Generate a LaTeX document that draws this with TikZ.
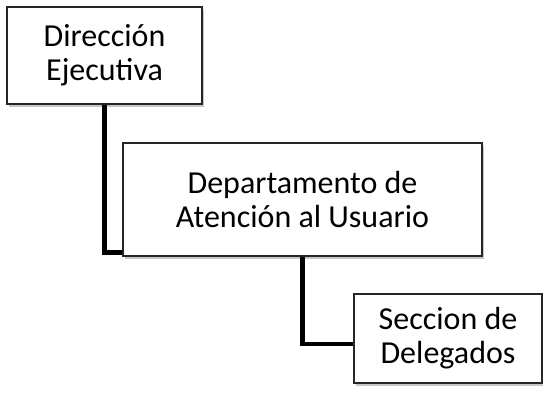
\documentclass[tikz,border=0pt]{standalone}
\usepackage{fontspec}
\setmainfont{Carlito}
\usetikzlibrary{shadows,backgrounds}

\begin{document}
\begin{tikzpicture}[x=0.75pt, y={(0pt,-0.75pt)},
        box/.style={draw=black!85, line width=0.8pt, fill=white, rectangle, align=center, inner sep=0pt,
            font=\fontsize{24}{25.5}\selectfont,
            drop shadow={shadow xshift=1.5pt, shadow yshift=-2pt, fill=black, opacity=0.22}},
        conn/.style={line width=3.4pt, line cap=rect}]
        \useasboundingbox (0,0) rectangle (543,395);
        \node[box, minimum width=146.25pt, minimum height=72.75pt] (dir) at (104.5,55.5) {Dirección\\Ejecutiva};
        \node[box, minimum width=269.25pt, minimum height=84.75pt] (dep) at (302.5,199.5) {Departamento de\\Atención al Usuario};
        \node[box, minimum width=141pt, minimum height=66.75pt] (sec) at (448,338.5) {Seccion de\\Delegados};

        \begin{scope}[on background layer]
            \draw[conn] (dir.south) |- ([yshift=3pt]dep.south west);
            \draw[conn] (dep.south) |- ([yshift=-4pt]sec.west);
        \end{scope}
    \end{tikzpicture}
\end{document}
